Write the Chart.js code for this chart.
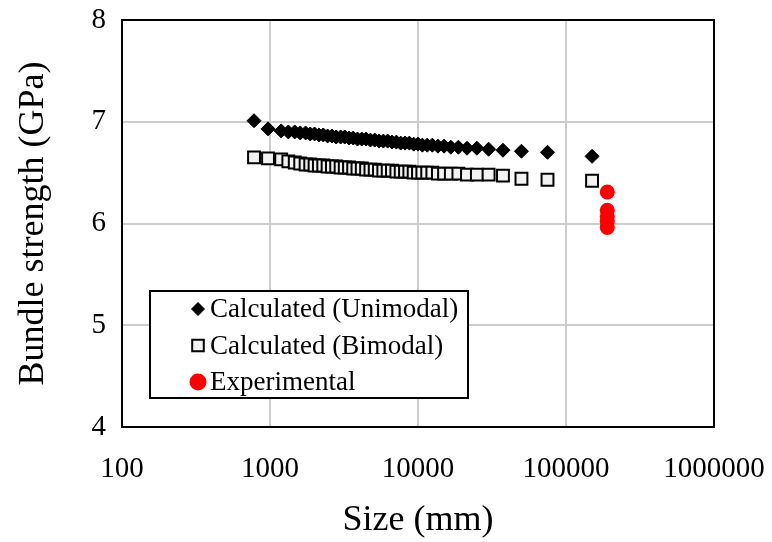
<!DOCTYPE html>
<html>
<head>
<meta charset="utf-8">
<script src="https://cdn.jsdelivr.net/npm/chart.js@4/dist/chart.umd.min.js"></script>
<style>
  html, body { margin: 0; padding: 0; background: #ffffff; }
  #c { display: block; }
</style>
</head>
<body>
<canvas id="c" width="772" height="542"></canvas>
<script>
// Bundle length (mm) for the calculated series
const sizesMm = [
  780, 970, 1190, 1330, 1470, 1600, 1740, 1870, 2000, 2140, 2290,
  2450, 2620, 2800, 3000, 3200, 3420, 3650, 3900, 4170, 4460, 4770,
  5100, 5450, 5830, 6240, 6670, 7140, 7640, 8170, 8740, 9350, 10000,
  10700, 11540, 12500, 13640, 15000, 16670, 18750, 21430, 25000,
  30000, 37500, 50000, 75000, 150000
];

// Calculated bundle strength (GPa), unimodal fibre strength distribution
const unimodalGPa = [
  7.01, 6.93, 6.91, 6.90, 6.90, 6.89, 6.89, 6.88, 6.88, 6.87, 6.87,
  6.86, 6.86, 6.85, 6.85, 6.85, 6.84, 6.84, 6.83, 6.83, 6.83, 6.82,
  6.82, 6.81, 6.81, 6.81, 6.80, 6.80, 6.79, 6.79, 6.79, 6.78, 6.78,
  6.77, 6.77, 6.77, 6.76, 6.76, 6.75, 6.75, 6.74, 6.74,
  6.73, 6.72, 6.71, 6.70, 6.66
];

// Calculated bundle strength (GPa), bimodal fibre strength distribution
const bimodalGPa = [
  6.65, 6.64, 6.63, 6.61, 6.60, 6.59, 6.58, 6.58, 6.57, 6.57, 6.57,
  6.56, 6.56, 6.56, 6.55, 6.55, 6.55, 6.54, 6.54, 6.54, 6.53, 6.53,
  6.53, 6.52, 6.52, 6.52, 6.52, 6.51, 6.51, 6.51, 6.51, 6.50, 6.50,
  6.50, 6.50, 6.50, 6.49, 6.49, 6.49, 6.49, 6.48, 6.48,
  6.48, 6.47, 6.44, 6.43, 6.42
];

// Measured bundle strengths
const experimentalSizeMm = [190000, 190000, 190000, 190000, 190000];
const experimentalGPa = [6.31, 6.13, 6.07, 6.02, 5.96];

const seriesLabels = ['Calculated (Unimodal)', 'Calculated (Bimodal)', 'Experimental'];
const xTickValues = [100, 1000, 10000, 100000, 1000000];
const yTickValues = [4, 5, 6, 7, 8];

const SERIF = '"Liberation Serif", "Times New Roman", Times, serif';

const toPoints = (xs, ys) => xs.map((x, i) => ({ x: x, y: ys[i] }));

// Full black frame round the plotting area
const plotFrame = {
  id: 'plotFrame',
  beforeDatasetsDraw(chart) {
    const { ctx, chartArea: a } = chart;
    ctx.save();
    ctx.strokeStyle = '#000000';
    ctx.lineWidth = 2;
    ctx.strokeRect(a.left, a.top, a.right - a.left, a.bottom - a.top);
    ctx.restore();
  }
};

function drawMarker(ctx, style, x, y, r) {
  ctx.beginPath();
  if (style === 'rectRot') {
    ctx.moveTo(x - r, y); ctx.lineTo(x, y - r); ctx.lineTo(x + r, y); ctx.lineTo(x, y + r);
    ctx.closePath();
  } else if (style === 'rect') {
    ctx.rect(x - r, y - r, 2 * r, 2 * r);
  } else {
    ctx.arc(x, y, r, 0, Math.PI * 2);
  }
  ctx.fill();
  ctx.stroke();
}

// Boxed legend placed inside the lower-left part of the plot
const boxedLegend = {
  id: 'boxedLegend',
  afterDatasetsDraw(chart) {
    const { ctx, chartArea: a } = chart;
    const x0 = a.left + 28, y0 = a.top + 271, w = 318, h = 107;
    const markerSize = [6.5, 5.8, 7.5];
    ctx.save();
    ctx.fillStyle = '#ffffff';
    ctx.fillRect(x0, y0, w, h);
    ctx.lineWidth = 2;
    ctx.strokeStyle = '#000000';
    ctx.strokeRect(x0, y0, w, h);
    ctx.font = '27px ' + SERIF;
    ctx.textBaseline = 'middle';
    ctx.textAlign = 'left';
    chart.data.datasets.forEach((ds, i) => {
      const cy = y0 + 18 + i * 36.5;
      ctx.fillStyle = ds.backgroundColor;
      ctx.strokeStyle = ds.borderColor;
      ctx.lineWidth = ds.borderWidth;
      drawMarker(ctx, ds.pointStyle, x0 + 48, cy, markerSize[i]);
      ctx.fillStyle = '#000000';
      ctx.fillText(ds.label, x0 + 60, cy + 1);
    });
    ctx.restore();
  }
};

new Chart(document.getElementById('c'), {
  type: 'scatter',
  data: {
    datasets: [
      {
        label: seriesLabels[0],
        data: toPoints(sizesMm, unimodalGPa),
        pointStyle: 'rectRot',
        pointRadius: 7,
        backgroundColor: '#000000',
        borderColor: '#000000',
        borderWidth: 1,
        order: 1
      },
      {
        label: seriesLabels[1],
        data: toPoints(sizesMm, bimodalGPa),
        pointStyle: 'rect',
        pointRadius: 8.4,
        backgroundColor: '#f2f2f2',
        borderColor: '#000000',
        borderWidth: 2,
        order: 2
      },
      {
        label: seriesLabels[2],
        data: toPoints(experimentalSizeMm, experimentalGPa),
        pointStyle: 'circle',
        pointRadius: 7.5,
        backgroundColor: '#ff0000',
        borderColor: '#ff0000',
        borderWidth: 0,
        order: 0
      }
    ]
  },
  options: {
    responsive: false,
    devicePixelRatio: 1,
    animation: false,
    layout: { padding: { top: 20, right: 58, bottom: 0, left: 0 } },
    plugins: {
      legend: { display: false },
      tooltip: { enabled: false }
    },
    scales: {
      x: {
        type: 'logarithmic',
        min: 100,
        max: 1000000,
        afterBuildTicks: (s) => { s.ticks = xTickValues.map(v => ({ value: v })); },
        afterFit: (s) => { s.height = 115; s.paddingLeft = 0; s.paddingRight = 0; },
        grid: { color: '#cccccc', lineWidth: 2, drawTicks: false },
        border: { display: false },
        ticks: {
          color: '#000000',
          font: { family: SERIF, size: 29 },
          padding: 25,
          maxRotation: 0,
          autoSkip: false,
          callback: (v) => String(v)
        },
        title: {
          display: true,
          text: 'Size (mm)',
          color: '#000000',
          font: { family: SERIF, size: 36 },
          padding: { top: 0, bottom: 0 }
        }
      },
      y: {
        min: 4,
        max: 8,
        afterBuildTicks: (s) => { s.ticks = yTickValues.map(v => ({ value: v })); },
        afterFit: (s) => { s.width = 122; s.paddingTop = 0; s.paddingBottom = 0; },
        grid: { color: '#cccccc', lineWidth: 2, drawTicks: false },
        border: { display: false },
        ticks: {
          color: '#000000',
          font: { family: SERIF, size: 29 },
          padding: 16
        },
        title: {
          display: true,
          text: 'Bundle strength (GPa)',
          color: '#000000',
          font: { family: SERIF, size: 36 },
          padding: { top: 12, bottom: 0 }
        }
      }
    }
  },
  plugins: [plotFrame, boxedLegend]
});
</script>
</body>
</html>
